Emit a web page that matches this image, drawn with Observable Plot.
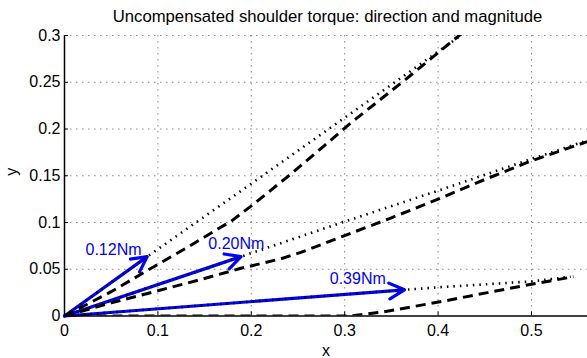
<!DOCTYPE html>
<html>
<head>
<meta charset="utf-8">
<script src="https://cdn.jsdelivr.net/npm/d3@7"></script>
<script src="https://cdn.jsdelivr.net/npm/@observablehq/plot@0.6"></script>
<style>
  html, body { margin: 0; padding: 0; background: #fff; }
  #chart { width: 587px; height: 358px; }
</style>
</head>
<body>
<div id="chart"></div>
<script>
const title = "Uncompensated shoulder torque: direction and magnitude";
const xTicks = [0, 0.1, 0.2, 0.3, 0.4, 0.5];
const yTicks = [0, 0.05, 0.1, 0.15, 0.2, 0.25, 0.3];

// torque arrows (tips, from origin) and labels
const arrowX = [0.0886, 0.189, 0.364];
const arrowY = [0.0635, 0.0635, 0.028];
const arrowLabels = ["0.12Nm", "0.20Nm", "0.39Nm"];
const labelX = [0.0525, 0.184, 0.314];
const labelY = [0.0705, 0.077, 0.0395];

// dotted lines
const dotAX = [0, 0.0886, 0.2, 0.3, 0.43];
const dotAY = [0, 0.0635, 0.1415, 0.212, 0.304];
const dotBX = [0, 0.189, 0.3, 0.4, 0.5, 0.57];
const dotBY = [0, 0.0635, 0.101, 0.134, 0.168, 0.191];
const dotCX = [0, 0.364, 0.4, 0.453, 0.5, 0.542];
const dotCY = [0, 0.028, 0.0307, 0.034, 0.037, 0.042];

// dashed lines
const dashAX = [0, 0.05, 0.103, 0.131, 0.164, 0.178, 0.199, 0.239, 0.278, 0.306, 0.335, 0.364, 0.392, 0.425];
const dashAY = [0, 0.026, 0.057, 0.073, 0.093, 0.101, 0.117, 0.149, 0.182, 0.206, 0.229, 0.252, 0.275, 0.302];
const dashBX = [0, 0.05, 0.1, 0.142, 0.189, 0.231, 0.253, 0.3, 0.35, 0.4, 0.45, 0.5, 0.57];
const dashBY = [0, 0.014, 0.027, 0.038, 0.051, 0.061, 0.068, 0.086, 0.105, 0.125, 0.146, 0.166, 0.19];
const dashCX = [0, 0.306, 0.339, 0.399, 0.453, 0.5, 0.545];
const dashCY = [0, 0, 0.004, 0.0146, 0.025, 0.034, 0.042];

const toPts = (xs, ys) => xs.map((x, i) => ({x, y: ys[i]}));
const arrows = arrowX.map((x, i) => ({x, y: arrowY[i]}));
const labels = arrowLabels.map((t, i) => ({t, x: labelX[i], y: labelY[i]}));

const W = 587, H = 358, mL = 64, mR = 0, mT = 35, mB = 42.5;
const frameW = W - mL - mR, frameH = H - mT - mB;

const dashStyle = {x: "x", y: "y", stroke: "black", strokeWidth: 3, strokeDasharray: "10,6", strokeLinecap: "butt", clip: true};
const dotStyle = {x: "x", y: "y", stroke: "black", strokeWidth: 2.6, strokeDasharray: "1.5,5", strokeLinecap: "butt", clip: true};

const chart = Plot.plot({
  width: W, height: H,
  marginLeft: mL, marginRight: mR, marginTop: mT, marginBottom: mB,
  x: {domain: [0, 0.56]},
  y: {domain: [0, 0.3]},
  style: {fontFamily: "'Liberation Sans', Arial, sans-serif", fontSize: "16px", background: "white", color: "black", overflow: "visible"},
  marks: [
    Plot.gridX(xTicks.slice(1), {stroke: "#888", strokeOpacity: 1, strokeWidth: 1, strokeDasharray: "1.5,4.5"}),
    Plot.gridY(yTicks.slice(1), {stroke: "#888", strokeOpacity: 1, strokeWidth: 1, strokeDasharray: "1.5,4.5"}),
    Plot.ruleX(xTicks.slice(1), {stroke: "black", insetTop: frameH - 4}),
    Plot.ruleY(yTicks.slice(1), {stroke: "black", insetRight: frameW - 4}),
    Plot.arrow(arrows, {x1: () => 0, y1: () => 0, x2: "x", y2: "y", stroke: "#0000ff", strokeWidth: 3.2, headLength: 8, headAngle: 55}),
    Plot.line(toPts(dashAX, dashAY), dashStyle),
    Plot.line(toPts(dashBX, dashBY), dashStyle),
    Plot.line(toPts(dashCX, dashCY), dashStyle),
    Plot.line(toPts(dotAX, dotAY), dotStyle),
    Plot.line(toPts(dotBX, dotBY), dotStyle),
    Plot.line(toPts(dotCX, dotCY), dotStyle),
    Plot.ruleX([0], {stroke: "black", strokeWidth: 1.5}),
    Plot.ruleY([0], {stroke: "black", strokeWidth: 1.5}),
    Plot.text(labels, {x: "x", y: "y", text: "t", fill: "#0000ff", fontSize: 16, lineAnchor: "middle"}),
    Plot.axisX(xTicks, {tickSize: 0, tickPadding: 9, fontSize: 16, tickFormat: d => String(d), label: null}),
    Plot.axisY(yTicks, {tickSize: 0, tickPadding: 4, fontSize: 16, tickFormat: d => String(d), label: null}),
    Plot.text(["x"], {text: d => d, frameAnchor: "bottom", dy: 34.4, fontSize: 16, lineAnchor: "middle"}),
    Plot.text(["y"], {text: d => d, frameAnchor: "left", dx: -53, rotate: -90, fontSize: 16, lineAnchor: "middle"}),
    Plot.text([title], {text: d => d, frameAnchor: "top", dx: 1.5, dy: -18.4, fontSize: 16.7, lineAnchor: "middle"})
  ]
});
document.getElementById("chart").appendChild(chart);
</script>
</body>
</html>
